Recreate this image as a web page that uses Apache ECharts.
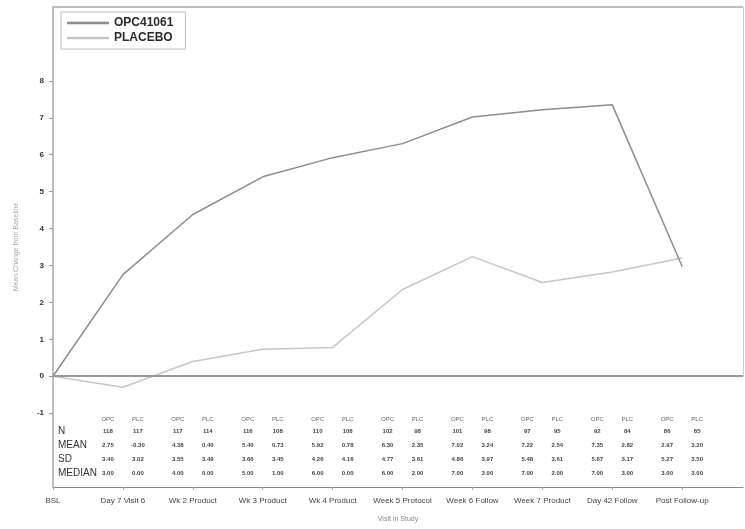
<!DOCTYPE html>
<html>
<head>
<meta charset="utf-8">
<script src="https://cdn.jsdelivr.net/npm/echarts@6/dist/echarts.min.js"></script>
<style>
  html, body { margin: 0; padding: 0; background: #fff; }
  #chart { width: 745px; height: 529px; }
</style>
</head>
<body>
<div id="chart"></div>
<script>
// Visits (baseline first), mean change from baseline per arm
const visits = ['BSL', 'Day 7 Visit 6', 'Wk 2 Product', 'Wk 3 Product', 'Wk 4 Product',
  'Week 5 Protocol', 'Week 6 Follow', 'Week 7 Product', 'Day 42 Follow', 'Post Follow-up'];
const opcMean = [0, 2.75, 4.38, 5.40, 5.92, 6.30, 7.02, 7.22, 7.35, 2.97];
const plcMean = [0, -0.30, 0.40, 0.73, 0.78, 2.35, 3.24, 2.54, 2.82, 3.20];

// Summary statistics table (one entry per post-baseline visit)
const opcN = [118, 117, 116, 110, 102, 101, 97, 92, 86];
const plcN = [117, 114, 108, 108, 98, 98, 95, 84, 85];
const opcSD = [3.40, 3.55, 3.66, 4.26, 4.77, 4.86, 5.48, 5.67, 5.27];
const plcSD = [3.02, 3.49, 3.45, 4.16, 3.61, 3.97, 3.61, 3.17, 3.50];
const opcMedian = [3.00, 4.00, 5.00, 6.00, 6.00, 7.00, 7.00, 7.00, 3.00];
const plcMedian = [0.00, 0.00, 1.00, 0.00, 2.00, 3.00, 2.00, 3.00, 3.00];

const rowNames = ['N', 'MEAN', 'SD', 'MEDIAN'];
const yTicks = [-1, 0, 1, 2, 3, 4, 5, 6, 7, 8];
const xTicks = [0, 1, 2, 3, 4, 5, 6, 7, 8, 9];

const chart = echarts.init(document.getElementById('chart'));

const toPts = arr => arr.map((v, i) => [i, v]);

// table rows expressed in y-axis units below the zero line
const headerY = -1.17;
const rowYs = [-1.50, -1.88, -2.25, -2.62];

const tableData = [];
for (let i = 0; i < opcN.length; i++) tableData.push([i + 1]);

const font = 'Liberation Sans, Arial, sans-serif';

chart.setOption({
  animation: false,
  backgroundColor: '#fff',
  textStyle: { fontFamily: font },
  grid: { left: 53, right: 2, top: 7, bottom: 42 },
  legend: {
    left: 61, top: 12, orient: 'vertical',
    itemWidth: 42, itemHeight: 6, itemGap: 3,
    padding: [5, 12, 5, 6],
    borderColor: '#bbb', borderWidth: 1,
    textStyle: { fontSize: 12, color: '#2a2a2a', fontWeight: 'bold', fontFamily: font },
    data: [{ name: 'OPC41061', icon: 'path://M0,0 L10,0 L10,0.6 L0,0.6 Z' },
           { name: 'PLACEBO', icon: 'path://M0,0 L10,0 L10,0.6 L0,0.6 Z' }]
  },
  xAxis: {
    type: 'value', min: 0, max: 9.87,
    name: 'Visit in Study', nameLocation: 'middle', nameGap: 29,
    nameTextStyle: { fontSize: 7, color: '#888' },
    axisLine: { onZero: false, lineStyle: { color: '#888', width: 1.2 } },
    axisTick: { show: true, length: 3, customValues: xTicks, lineStyle: { color: '#aaa' } },
    splitLine: { show: false },
    axisLabel: {
      fontSize: 8, color: '#444', margin: 10, customValues: xTicks,
      formatter: v => visits[Math.round(v)]
    }
  },
  yAxis: {
    type: 'value', min: -3, max: 10,
    name: 'Mean Change from Baseline', nameLocation: 'middle', nameGap: 33,
    nameTextStyle: { fontSize: 7, color: '#aaa' },
    axisLine: { show: true, lineStyle: { color: '#aaa', width: 1.5 } },
    axisTick: { show: true, length: 4, customValues: yTicks, lineStyle: { color: '#999' } },
    splitLine: { show: false },
    axisLabel: {
      fontSize: 8, color: '#333', fontWeight: 'bold', margin: 9, customValues: yTicks
    }
  },
  series: [
    {
      name: 'OPC41061', type: 'line', data: toPts(opcMean),
      symbol: 'none', color: '#8c8c8c',
      lineStyle: { color: '#8c8c8c', width: 1.5 },
      z: 3,
      markLine: {
        silent: true, symbol: 'none', label: { show: false },
        data: [
          [{ coord: [0, 0], lineStyle: { color: '#999', width: 2, type: 'solid' } }, { coord: [9.87, 0] }],
          [{ coord: [0, 10], lineStyle: { color: '#aaa', width: 1.5, type: 'solid' } }, { coord: [9.87, 10] }],
          [{ coord: [9.87, 0], lineStyle: { color: '#ccc', width: 1, type: 'solid' } }, { coord: [9.87, 10] }]
        ]
      }
    },
    {
      name: 'PLACEBO', type: 'line', data: toPts(plcMean),
      symbol: 'none', color: '#c6c6c6',
      lineStyle: { color: '#c6c6c6', width: 1.5 },
      z: 2
    },
    {
      // statistics table under the zero line
      type: 'custom', data: tableData, silent: true, z: 4,
      renderItem: (params, api) => {
        const v = api.value(0);
        const i = v - 1;
        const cx = api.coord([v, 0])[0];
        const cols = [
          { dx: -15, head: 'OPC', vals: [opcN[i], opcMean[v].toFixed(2), opcSD[i].toFixed(2), opcMedian[i].toFixed(2)] },
          { dx: 15, head: 'PLC', vals: [plcN[i], plcMean[v].toFixed(2), plcSD[i].toFixed(2), plcMedian[i].toFixed(2)] }
        ];
        const children = [];
        cols.forEach(c => {
          children.push({
            type: 'text',
            style: { text: c.head, x: cx + c.dx, y: api.coord([v, headerY])[1],
              align: 'center', verticalAlign: 'middle', fontSize: 6, fill: '#666', fontFamily: font }
          });
          c.vals.forEach((t, r) => {
            children.push({
              type: 'text',
              style: { text: String(t), x: cx + c.dx, y: api.coord([v, rowYs[r]])[1],
                align: 'center', verticalAlign: 'middle', fontSize: 6, fontWeight: 'bold', fill: '#444', fontFamily: font }
            });
          });
        });
        if (i === 0) {
          const lx = api.coord([0, 0])[0] + 5;
          rowNames.forEach((n, r) => {
            children.push({
              type: 'text',
              style: { text: n, x: lx, y: api.coord([0, rowYs[r]])[1],
                align: 'left', verticalAlign: 'middle', fontSize: 10, fill: '#333', fontFamily: font }
            });
          });
        }
        return { type: 'group', children };
      }
    }
  ]
});
</script>
</body>
</html>
